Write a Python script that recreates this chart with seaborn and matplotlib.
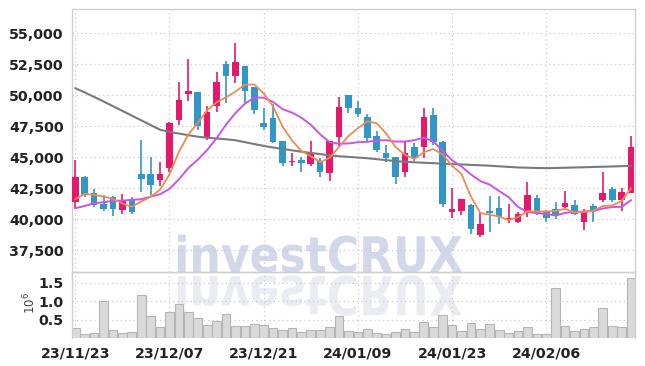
import numpy as np
import pandas as pd
import matplotlib
matplotlib.use("Agg")
import matplotlib.pyplot as plt
import matplotlib.transforms as mtransforms
from matplotlib.textpath import TextPath
from matplotlib.patches import PathPatch
from matplotlib.font_manager import FontProperties
import seaborn as sns

sns.set_theme(style="white")
plt.rcParams['font.family'] = ['Liberation Sans Narrow', 'DejaVu Sans']

# trading days (yy/mm/dd)
dates = ['23/11/23', '23/11/24', '23/11/27', '23/11/28', '23/11/29', '23/11/30', '23/12/01', '23/12/04',
         '23/12/05', '23/12/06', '23/12/07', '23/12/08', '23/12/11', '23/12/12', '23/12/13', '23/12/14',
         '23/12/15', '23/12/18', '23/12/19', '23/12/20', '23/12/21', '23/12/22', '23/12/26', '23/12/27',
         '23/12/28', '24/01/02', '24/01/03', '24/01/04', '24/01/05', '24/01/08', '24/01/09', '24/01/10',
         '24/01/11', '24/01/12', '24/01/15', '24/01/16', '24/01/17', '24/01/18', '24/01/19', '24/01/22',
         '24/01/23', '24/01/24', '24/01/25', '24/01/26', '24/01/29', '24/01/30', '24/01/31', '24/02/01',
         '24/02/02', '24/02/05', '24/02/06', '24/02/07', '24/02/08', '24/02/13', '24/02/14', '24/02/15',
         '24/02/16', '24/02/19', '24/02/20', '24/02/21']

open_ = [41370, 43400, 42120, 41230, 41770, 40750, 41610, 43650, 43650, 43190,
         44110, 48010, 50100, 50270, 46580, 49160, 52470, 51560, 52360, 50670,
         47740, 48170, 46320, 44620, 44780, 44460, 44730, 43710, 46660, 50020,
         49000, 48250, 46720, 45350, 45050, 43790, 45830, 45810, 48410, 46260,
         40610, 40690, 41150, 38760, 40690, 40890, 39940, 39810, 40480, 41690,
         40610, 40810, 40990, 41150, 39810, 41070, 41560, 42420, 41560, 42150]
high = [44780, 43450, 42420, 41940, 41880, 42020, 41770, 46400, 45000, 44600,
        47800, 51050, 52900, 50270, 49140, 51820, 52710, 54190, 52360, 50670,
        48950, 49270, 46320, 45370, 45000, 46320, 44920, 46320, 49810, 50020,
        49540, 48470, 47120, 45940, 45050, 46320, 46180, 49000, 49000, 46330,
        42500, 41640, 41200, 40530, 41880, 41880, 41230, 40610, 42980, 41960,
        40750, 41400, 42280, 41560, 40810, 41190, 43840, 42580, 42500, 46720]
low = [40830, 41760, 40970, 40690, 40270, 40400, 40430, 42180, 41960, 42690,
       43800, 47600, 49560, 47150, 46400, 48630, 49350, 50970, 49350, 48490,
       47150, 46130, 44300, 44300, 43840, 44300, 43430, 43090, 45860, 48550,
       48230, 46320, 45450, 44600, 42870, 43430, 44700, 44920, 45990, 41000,
       40080, 40350, 38820, 38550, 39000, 39620, 39680, 39730, 40210, 40350,
       39810, 40000, 40940, 40330, 39140, 39810, 41420, 41420, 40690, 42100]
close = [43430, 41960, 41150, 40860, 40830, 41560, 40610, 43270, 42790, 43650,
         47770, 49620, 50290, 47520, 48650, 51050, 51560, 52630, 50290, 48760,
         47470, 46260, 44520, 44730, 44560, 45320, 43840, 46320, 49060, 48950,
         48490, 46580, 45570, 44970, 43440, 45350, 44970, 48250, 46260, 41230,
         40810, 41640, 39190, 39620, 40530, 40160, 40130, 40430, 41960, 40480,
         40130, 40350, 41290, 40460, 40690, 40710, 42150, 41560, 42230, 45810]

# moving averages as drawn
ma5 = [41610, 42040, 41960, 41820, 41646, 41272, 41002, 41426, 41812, 42376,
       43618, 45420, 46824, 47770, 48770, 49426, 49814, 50282, 50836, 50858,
       50142, 49082, 47460, 46348, 45508, 45078, 44594, 44954, 45820, 46698,
       47332, 47880, 47730, 46912, 45810, 45182, 44860, 45396, 45654, 45212,
       44304, 43638, 41826, 40498, 40358, 40228, 39926, 40174, 40642, 40632,
       40626, 40670, 40842, 40542, 40584, 40700, 41060, 41114, 41468, 42492]
ma10 = [40890, 41070, 41290, 41370, 41480, 41500, 41560, 41610, 41820, 42011,
        42445, 43211, 44125, 44791, 45573, 46522, 47617, 48553, 49303, 49814,
        49784, 49448, 48871, 48592, 48183, 47610, 46838, 46207, 46084, 46103,
        46205, 46237, 46342, 46366, 46254, 46257, 46370, 46563, 46283, 45511,
        44743, 44249, 43611, 43076, 42785, 42266, 41782, 41000, 40570, 40495,
        40427, 40298, 40508, 40592, 40608, 40663, 40865, 40978, 41005, 41538]
ma_long = [50560, 50210, 49855, 49488, 49107, 48727, 48346, 47968, 47586, 47208,
           47030, 46900, 46774, 46647, 46567, 46505, 46443, 46361, 46209, 46058,
           45908, 45781, 45667, 45552, 45440, 45343, 45245, 45147, 45074, 45022,
           44970, 44916, 44839, 44761, 44684, 44626, 44588, 44551, 44515, 44478,
           44442, 44410, 44378, 44345, 44309, 44263, 44217, 44172, 44148, 44130,
           44115, 44130, 44149, 44168, 44188, 44210, 44230, 44250, 44275, 44300]

# volume in 10^6 shares
volume = [0.27, 0.12, 0.14, 1.00, 0.22, 0.14, 0.16, 1.17, 0.60, 0.31,
          0.71, 0.93, 0.71, 0.55, 0.36, 0.47, 0.65, 0.34, 0.34, 0.38,
          0.35, 0.27, 0.21, 0.27, 0.16, 0.21, 0.21, 0.30, 0.59, 0.18,
          0.16, 0.25, 0.15, 0.11, 0.16, 0.25, 0.16, 0.44, 0.30, 0.62,
          0.35, 0.18, 0.41, 0.25, 0.38, 0.22, 0.14, 0.19, 0.30, 0.11,
          0.11, 1.36, 0.34, 0.18, 0.25, 0.30, 0.82, 0.34, 0.30, 1.63]

price_ticks = [37500, 40000, 42500, 45000, 47500, 50000, 52500, 55000]
vol_ticks = [0.5, 1.0, 1.5]
label_every = 10

RED = '#e5186c'
BLUE = '#3196c8'
GRID = '#c6cadd'
SPINE = '#cfcfcf'

df = pd.DataFrame({'date': dates, 'open': open_, 'high': high, 'low': low, 'close': close,
                   'ma5': ma5, 'ma10': ma10, 'ma_long': ma_long, 'volume': volume})
df['x'] = np.arange(len(df))
df['up'] = df['close'] >= df['open']
colors = np.where(df['up'], RED, BLUE)

W, H = 645, 366
fig = plt.figure(figsize=(W / 100, H / 100), dpi=100)
fig.patch.set_facecolor('white')
ax = fig.add_axes([72 / W, 1 - 272 / H, (635 - 72) / W, (272 - 9) / H])
axv = fig.add_axes([72 / W, 1 - 338 / H, (635 - 72) / W, (338 - 272) / H], sharex=ax)

# watermark with its reflection, behind everything
fp = FontProperties(family='DejaVu Sans', weight='bold')
tp = TextPath((0, 0), 'investCRUX', size=1, prop=fp)
bb = tp.get_extents()
sx = (462 - 178) / bb.width
sy = (272 - 234) / bb.height
main_tr = (mtransforms.Affine2D().translate(-bb.x0, 0).scale(sx, sy)
           .translate(178, H - 272).scale(1 / W, 1 / H))
refl_tr = (mtransforms.Affine2D().translate(-bb.x0, 0).scale(sx, -sy * 1.1)
           .translate(178, H - 276).scale(1 / W, 1 / H))
for tr, col in [(main_tr, '#d2d7ea'), (refl_tr, '#ebecf2')]:
    patch = PathPatch(tr.transform_path(tp), facecolor=col, lw=0,
                      transform=fig.transFigure, zorder=-1)
    fig.add_artist(patch)

for a in (ax, axv):
    a.set_facecolor('none')
    a.set_axisbelow(True)
    a.grid(True, color=GRID, ls=(0, (1, 2.5)), lw=0.9)
    for s in a.spines.values():
        s.set_color(SPINE)
        s.set_linewidth(1)
    a.tick_params(length=0, labelsize=10.2, labelcolor='#222222', pad=6)

# candles
ax.vlines(df['x'], df['low'], df['high'], colors=colors, lw=1.2, zorder=3)
body_low = np.minimum(df['open'], df['close'])
body_h = np.maximum(np.abs(df['close'] - df['open']), 90)
ax.bar(df['x'], body_h, bottom=body_low, width=0.7, color=colors, lw=0, zorder=4)

# moving averages
sns.lineplot(data=df, x='x', y='ma_long', color='#7a7a7a', lw=1.5, ax=ax, zorder=5)
sns.lineplot(data=df, x='x', y='ma10', color='#c954e8', lw=1.4, ax=ax, zorder=5)
sns.lineplot(data=df, x='x', y='ma5', color='#f08a4f', lw=1.3, ax=ax, zorder=6)

ax.set_ylim(35750, 56935)
ax.set_yticks(price_ticks)
ax.set_yticklabels([f'{v:,}' for v in price_ticks])
ax.set_xlabel('')
ax.set_ylabel('')
ax.tick_params(axis='x', labelbottom=False)

# volume
sns.barplot(data=df, x='x', y='volume', native_scale=True, width=0.92,
            color='#d9d9d9', edgecolor='#b5b5b5', linewidth=0.8, ax=axv, zorder=2)
axv.set_ylim(0, 1.8)
axv.set_yticks(vol_ticks)
axv.set_yticklabels([f'{v:.1f}' for v in vol_ticks])
axv.spines['bottom'].set_visible(False)
axv.set_xlabel('')
axv.set_ylabel('')
tick_pos = df['x'].values[::label_every]
axv.set_xticks(tick_pos)
axv.set_xticklabels(df['date'].values[::label_every])
axv.set_xlim(-0.35, 59.42)
fig.text(30 / W, 1 - 303 / H, r'$10^{6}$', rotation=90, ha='center', va='center',
         fontsize=8.5, color='#444444')

for lbl in ax.get_yticklabels() + axv.get_yticklabels() + axv.get_xticklabels():
    lbl.set_fontweight('bold')

fig.savefig('out.png', dpi=100)
